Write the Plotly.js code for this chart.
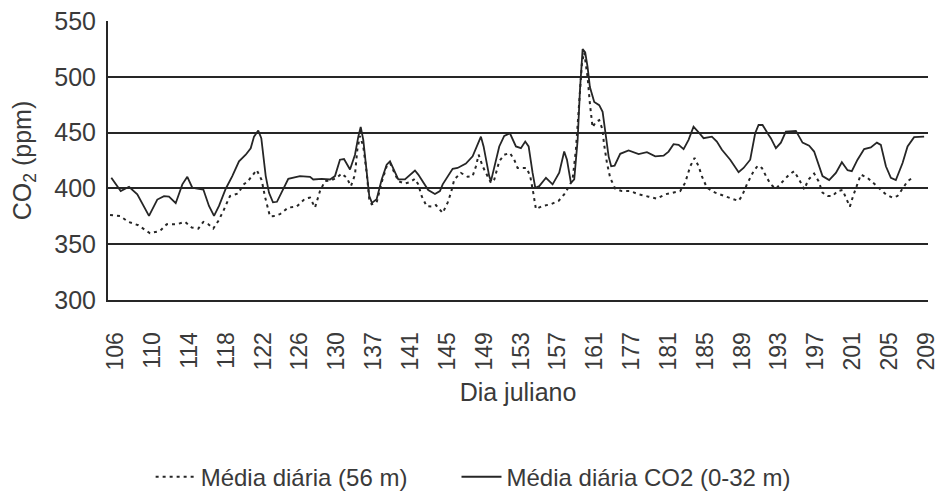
<!DOCTYPE html>
<html><head><meta charset="utf-8">
<script src="https://cdn.plot.ly/plotly-3.0.1.min.js"></script>
<style>html,body{margin:0;padding:0;background:#fff}#chart{width:940px;height:493px}</style>
</head><body><div id="chart"></div>
<script>
// Category positions of tick labels (one label every 4 categories)
const tickPositions = [0,4,8,12,16,20,24,28,32,36,40,44,48,52,56,60,64,68,72,76,80,84,88];
const tickLabels = ['106','110','114','118','122','126','130','137','141','145','149','153','157','161','177','181','185','189','193','197','201','205','209'];

// Média diária CO2 (0-32 m) — solid line
const solidX = [-0.48,0.54,1.44,2.34,3.61,4.51,5.24,5.78,6.51,7.23,7.77,8.31,8.86,9.51,10.12,10.67,11.21,11.94,12.65,13.38,14.11,14.65,15.01,15.47,15.80,16.28,16.64,17.07,17.50,17.94,18.73,20.00,21.09,21.44,22.36,23.26,23.80,24.34,24.78,25.43,25.97,26.33,26.59,26.87,27.24,27.52,27.81,28.32,28.87,29.41,29.77,30.20,30.67,31.39,31.94,32.48,32.84,33.38,33.92,34.65,35.19,35.49,36.57,37.11,38.01,38.74,39.10,39.64,39.93,40.18,40.54,40.73,41.09,41.63,42.17,42.79,43.44,43.98,44.45,44.82,45.25,45.54,45.97,46.70,47.42,48.14,48.68,48.98,49.41,49.77,50.14,50.39,50.68,50.96,51.22,51.47,51.94,52.48,52.85,53.13,53.50,53.78,54.15,54.76,55.67,56.76,57.66,58.56,59.47,60.01,60.55,61.10,61.64,62.18,62.72,63.27,63.81,64.71,65.25,65.80,66.70,67.61,68.15,68.87,69.41,69.78,70.21,70.86,71.11,71.66,72.20,72.74,73.83,74.55,75.27,75.81,76.35,76.72,77.44,78.17,78.82,79.44,79.90,80.52,81.24,81.96,82.62,83.05,83.60,84.14,84.68,85.41,85.95,86.66,87.75];
const solidY = [409.5,397.6,401.5,394.7,375.4,390,393,392.6,386.7,403.6,410.4,400.6,399.7,399,384.3,375.4,384.3,399.7,411,424.3,430.2,436,446.4,451.8,445,411,396,387.5,388,395,408.6,411,410.4,408,408.6,408,411,425.7,426.3,416.9,430.2,446.4,455,443.5,416.9,393.2,387,390.2,408,421.3,424.3,416.9,408,408,412.4,416,412.4,405,398.5,395,397.6,403.6,417.5,418.3,422.2,428.7,436,446.4,437.6,425.7,411,406.5,419.8,437.6,447,449.4,437.6,436,442,437.6,413.9,400.6,402,409.5,403.6,414,433,425.7,405,408,443.5,487.9,524.9,521.9,508.6,490.8,477.5,474.6,468.6,449.4,428.7,419.8,420.4,431,434,430.8,432.5,428.7,429.3,433,439.6,439,435.2,443.5,455.3,450.3,445,446.4,442,434.6,425.7,414.5,418.3,425.7,449.4,456.8,456.8,448,445,436,441,450.9,451.5,441,438.2,433,419.8,411,407.4,413.9,423.4,416.3,415.4,425.7,435.2,436.7,441,439,419.8,409.5,407.4,422.8,437.6,445.9,446.4];

// Média diária (56 m) — dashed line
const dashX = [-0.62,0.47,1.37,2.45,3.72,4.81,5.53,6.62,7.52,8.25,8.96,9.51,10.05,10.59,11.13,11.68,12.40,13.30,13.81,14.36,15.30,15.84,16.20,16.74,17.29,17.83,18.73,19.64,20.54,21.09,21.63,22.17,22.71,23.44,23.98,24.53,25.07,25.53,25.97,26.22,26.51,26.87,27.24,27.52,27.78,28.32,28.87,29.41,29.77,30.20,30.67,31.39,31.94,32.48,32.84,33.20,33.75,34.47,34.76,35.49,36.03,36.39,36.75,37.47,38.20,38.74,39.10,39.39,39.83,40.18,40.73,41.09,41.63,42.17,42.79,43.26,43.62,44.60,44.99,45.32,45.61,46.34,47.24,48.07,48.68,49.22,49.59,49.95,50.24,50.60,50.85,51.22,51.47,51.76,52.12,52.48,52.85,52.99,53.32,53.67,54.22,54.94,55.84,56.76,57.84,58.74,59.64,60.55,61.27,61.81,62.36,62.83,63.27,63.62,64.17,65.07,65.98,66.88,67.61,67.97,68.51,69.24,69.70,70.14,70.68,71.11,71.66,72.38,73.10,73.64,74.18,74.73,75.20,75.81,76.29,76.72,77.27,77.81,78.35,78.89,79.33,79.69,80.04,80.52,80.88,81.61,82.15,82.87,83.60,84.32,84.86,85.41,85.95,86.49];
const dashY = [376.2,375.3,370,367,359.8,361.9,367.9,367.9,370,364.9,364,370,367.9,364,370.8,379.8,393.2,395.5,403,406.6,416.5,407.5,392.6,375,375.3,377,382.8,383.7,390.8,391.7,382.8,397.6,406.5,407.4,409.5,413.3,409.5,402,412.4,434.6,447,437.6,414,390.2,385.8,387.3,405.6,419.8,422.8,415.4,406.5,404.4,405.6,408.6,403.6,393.2,384,383.6,385,378,387.3,396.2,408,413.9,410.4,411,419.8,430.2,419.8,413.9,405,408,424.3,430.2,431.7,425.7,418.3,418.3,411,396.2,381.4,384.3,385.8,388.8,394.7,402,408,434.6,473.1,511.5,521.9,499.7,476,454.7,459.8,461.2,452.4,440.5,422.8,409.5,399.7,397.6,397.6,394.7,392.6,390.8,394.7,396.7,397.6,405,419.8,427.2,419.8,411,400.6,396.2,393.2,390.8,388.8,393.2,403.6,415.4,420.4,418.3,409.5,403.6,399.7,406.5,412.4,415.4,408,399.1,408,413.3,406.5,396.2,393.2,393.2,397.6,398.5,390.2,383.7,393.2,403.6,412.4,409.5,405.6,400.6,394.7,391.7,393.2,399.7,406.5,409.5];

const seriesNames = ['Média diária (56 m)', 'Média diária CO2 (0-32 m)'];

const FONT = '"Liberation Sans", Arial, sans-serif';
const INK = '#262626';
const TXT = '#3a3a3a';

const traces = [
  {x: dashX, y: dashY, name: seriesNames[0], type: 'scatter', mode: 'lines', legend: 'legend',
   line: {color: INK, width: 2, dash: '3px,4px'}},
  {x: solidX, y: solidY, name: seriesNames[1], type: 'scatter', mode: 'lines', legend: 'legend2',
   line: {color: INK, width: 1.8}}
];

const legendBase = {orientation: 'h', xanchor: 'left', y: -0.635, yanchor: 'middle',
                    font: {size: 24, color: TXT}, itemwidth: 40, bgcolor: 'rgba(0,0,0,0)'};

const layout = {
  width: 940, height: 493,
  margin: {l: 108, r: 12, t: 21, b: 193, autoexpand: false},
  paper_bgcolor: '#fff', plot_bgcolor: '#fff',
  font: {family: FONT, color: TXT},
  showlegend: true,
  legend: Object.assign({}, legendBase, {x: 0.052}),
  legend2: Object.assign({}, legendBase, {x: 0.425}),
  xaxis: {
    range: [-0.84, 88.17], tickmode: 'array', tickvals: tickPositions, ticktext: tickLabels,
    tickangle: -90, tickfont: {size: 23, color: TXT}, ticks: '', ticklabelstandoff: 21,
    showgrid: false, zeroline: false, showline: true, linecolor: INK, linewidth: 2,
    title: {text: 'Dia juliano', font: {size: 25, color: TXT}, standoff: 14}
  },
  yaxis: {
    range: [300, 550], dtick: 50, tick0: 300, tickfont: {size: 25, color: TXT},
    ticks: '', ticklabelstandoff: 5,
    showgrid: true, gridcolor: INK, gridwidth: 2, zeroline: false,
    showline: true, linecolor: INK, linewidth: 2,
    title: {text: 'CO<sub>2</sub> (ppm)', font: {size: 25, color: TXT}, standoff: 16}
  }
};

Plotly.newPlot('chart', traces, layout, {staticPlot: true, displayModeBar: false});
</script>
</body></html>
